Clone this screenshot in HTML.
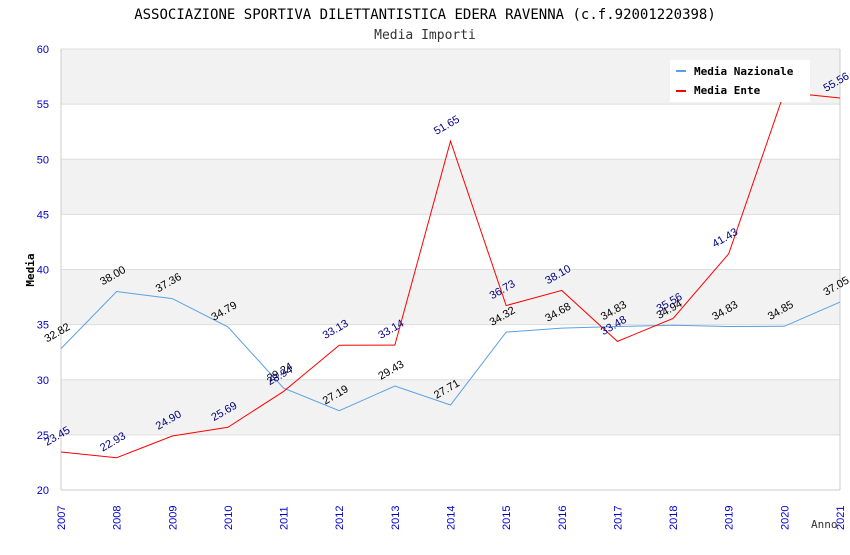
<!DOCTYPE html>
<html><head><meta charset="utf-8"><style>
body{margin:0;background:#fff;width:850px;height:550px;overflow:hidden}
text{font-family:"DejaVu Sans Mono","Liberation Mono",monospace}
.v,.tk{font-family:"Liberation Sans",sans-serif;font-size:11px}
</style></head><body>
<svg id="c" width="850" height="550">
<text x="425" y="19" text-anchor="middle" font-size="14" fill="#000">ASSOCIAZIONE SPORTIVA DILETTANTISTICA EDERA RAVENNA (c.f.92001220398)</text>
<text x="425" y="39" text-anchor="middle" font-size="13" fill="#333">Media Importi</text>
<g id="grid"></g><g id="axes"></g><g id="series"></g>
<text transform="translate(34,270) rotate(-90)" text-anchor="middle" font-size="11" font-weight="bold">Media</text>
<text x="811" y="528" font-size="11" fill="#333">Anno</text>
<g>
<rect x="670" y="60" width="140" height="42" fill="#fff"/>
<g><rect x="676" y="70" width="10" height="2" fill="#5aa0e6"/><text x="694" y="75" font-size="11" font-weight="bold">Media Nazionale</text></g>
<g><rect x="676" y="90" width="10" height="2" fill="#f00"/><text x="694" y="94" font-size="11" font-weight="bold">Media Ente</text></g>
</g>
</svg>
<script>
const years=[2007,2008,2009,2010,2011,2012,2013,2014,2015,2016,2017,2018,2019,2020,2021];
const nazionale=[32.82,38.00,37.36,34.79,29.24,27.19,29.43,27.71,34.32,34.68,34.83,34.94,34.83,34.85,37.05];
const ente=[23.45,22.93,24.90,25.69,28.94,33.13,33.14,51.65,36.73,38.10,33.48,35.56,41.43,56.08,55.56];
const yTicks=[20,25,30,35,40,45,50,55,60];
const NS='http://www.w3.org/2000/svg';
const L=61,R=840,T=49,B=490;
const x=i=>L+(R-L)*i/(years.length-1);
const y=v=>B-(v-20)/40*(B-T);
function mk(tag,attrs,parent){const e=document.createElementNS(NS,tag);for(const k in attrs)e.setAttribute(k,attrs[k]);parent.appendChild(e);return e;}
const grid=document.getElementById('grid'),axes=document.getElementById('axes'),ser=document.getElementById('series');
for(let k=0;k<yTicks.length-1;k++){
 const r=mk('rect',{x:L,y:y(yTicks[k+1]),width:R-L,height:y(yTicks[k])-y(yTicks[k+1]),fill:(k%2==1)?'#f2f2f2':'#fff'},grid);
 
 
}
yTicks.forEach(t=>{
 const l=mk('line',{x1:L,x2:R,y1:y(t),y2:y(t),stroke:'#ddd'},grid);
 
 
 const tx=mk('text',{class:'tk',x:L-12,y:y(t)+4,'text-anchor':'end',fill:'#0000cc'},axes);
 tx.textContent=t;
 
 
});
mk('line',{x1:L,x2:L,y1:T,y2:B,stroke:'#ccc'},axes);
mk('line',{x1:R,x2:R,y1:T,y2:B,stroke:'#ccc'},axes);
mk('line',{x1:L,x2:R,y1:B,y2:B,stroke:'#ccc'},axes);
years.forEach((yr,i)=>{
 const tx=mk('text',{class:'tk',transform:`translate(${x(i)+4},${B+40}) rotate(-90)`,fill:'#0000cc'},axes);
 tx.textContent=yr;
 
 
});
function series(data,color,lc,name){
 const p=mk('polyline',{points:data.map((v,i)=>x(i)+','+y(v)).join(' '),fill:'none',stroke:color,'stroke-width':1},ser);
 
 
 data.forEach((v,i)=>{
  const t=mk('text',{class:'v',transform:`translate(${x(i)-14},${y(v)-6}) rotate(-30)`,fill:lc},ser);
  t.textContent=v.toFixed(2);
  
  
 });
}
series(nazionale,'#5aa0e6','#000','nazionale');
series(ente,'#f00','#000080','ente');
</script>
</body></html>
